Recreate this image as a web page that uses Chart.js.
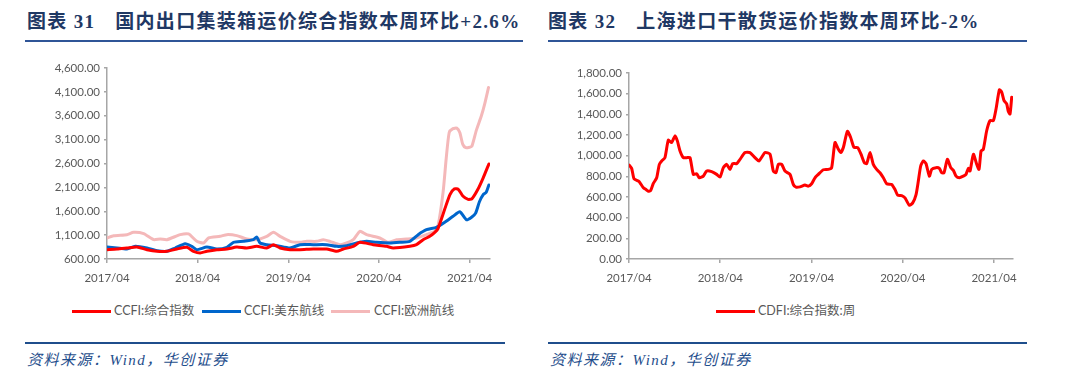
<!DOCTYPE html>
<html>
<head>
<meta charset="utf-8">
<script src="https://cdn.jsdelivr.net/npm/chart.js@4.4.0/dist/chart.umd.min.js"></script>
<style>
  body { margin: 0; width: 1080px; height: 380px; background: #fff; position: relative; overflow: hidden; }
  .title { position: absolute; top: 11px; line-height: 22px; font-family: "Liberation Serif", "Noto Sans CJK SC", serif; font-weight: bold; font-size: 19px; color: #1f3864; white-space: nowrap; letter-spacing: 1.3px; }
  .title .num { display: inline-block; margin-right: 20px; }
  .rule { position: absolute; height: 2px; background: #2f5597; }
  .legend { position: absolute; top: 302px; height: 18px; font-family: Lato, "Noto Sans CJK SC", sans-serif; font-size: 12.5px; color: #595959; white-space: nowrap; }
  .legend span.item { position: absolute; top: 0; line-height: 18px; }
  .legend i { position: absolute; top: 7.5px; height: 3px; width: 39px; }
  .source { position: absolute; top: 350px; line-height: 20px; font-family: "Liberation Serif", "Noto Sans CJK SC", serif; font-style: italic; font-size: 15px; color: #1f4e8c; white-space: nowrap; letter-spacing: 1.5px; }
  canvas { position: absolute; }
</style>
</head>
<body>
<div class="title" style="left:27px;"><span class="num">图表 31</span>国内出口集装箱运价综合指数本周环比+2.6%</div>
<div class="title" style="left:548px;"><span class="num">图表 32</span>上海进口干散货运价指数本周环比-2%</div>
<div class="rule" style="left:25px; top:40px; width:498px;"></div>
<div class="rule" style="left:548px; top:40px; width:479px;"></div>

<canvas id="chartOne" width="520" height="240" style="left:0; top:50px;"></canvas>
<canvas id="chartTwo" width="540" height="240" style="left:540px; top:50px;"></canvas>

<div class="legend" style="left:0; width:540px;">
  <i style="left:72px; background:#ff0000;"></i><span class="item" style="left:114px;">CCFI:综合指数</span>
  <i style="left:202px; background:#0066cc;"></i><span class="item" style="left:244px;">CCFI:美东航线</span>
  <i style="left:331px; background:#f4b8b9;"></i><span class="item" style="left:374px;">CCFI:欧洲航线</span>
</div>
<div class="legend" style="left:540px; width:540px;">
  <i style="left:176px; background:#ff0000;"></i><span class="item" style="left:218px;">CDFI:综合指数:周</span>
</div>

<div class="rule" style="left:25px; top:342px; width:480px; background:#1f4e8c;"></div>
<div class="rule" style="left:548px; top:342px; width:479px; background:#1f4e8c;"></div>
<div class="source" style="left:27px;">资料来源：Wind，华创证券</div>
<div class="source" style="left:550px;">资料来源：Wind，华创证券</div>

<script>
// x values are months counted from 2017/04
var yearLabels = ['2017/04', '2018/04', '2019/04', '2020/04', '2021/04'];
var yearTickMonths = [0, 12, 24, 36, 48];

var ccfiYTicks = [600, 1100, 1600, 2100, 2600, 3100, 3600, 4100, 4600];
var cdfiYTicks = [0, 200, 400, 600, 800, 1000, 1200, 1400, 1600, 1800];

// CCFI composite
var compositeMonths = [0, 1.32, 2.64, 3.96, 5.29, 6.61, 7.93, 9.25, 10.57, 11.45, 12.33, 13.22, 14.54, 15.86, 17.18, 18.5, 19.82, 21.15, 22.03, 22.91, 24.23, 25.55, 27.31, 29.07, 30.4, 31.28, 32.6, 33.48, 35.24, 37.0, 37.89, 40.09, 40.97, 41.85, 42.73, 43.39, 43.8, 44.7, 45.4, 46.0, 46.5, 47.1, 47.8, 48.3, 49.1, 49.8, 50.55];
var compositeValues = [795, 809, 830, 851, 795, 761, 761, 809, 844, 761, 726, 761, 795, 809, 851, 830, 865, 830, 900, 830, 795, 795, 809, 809, 761, 809, 865, 949, 900, 865, 830, 865, 900, 1005, 1075, 1158, 1230, 1640, 1950, 2070, 2060, 1920, 1850, 1860, 2060, 2300, 2590];

// CCFI US east coast
var usEastMonths = [0, 1.32, 2.64, 3.74, 5.29, 6.61, 7.93, 9.03, 10.35, 11.23, 11.89, 13.22, 14.54, 15.86, 16.74, 18.06, 19.38, 19.82, 20.26, 21.15, 22.47, 24.23, 25.55, 27.31, 29.07, 30.4, 31.72, 33.04, 34.36, 35.68, 37.44, 38.77, 40.09, 41.19, 42.29, 43.61, 44.71, 45.81, 46.7, 47.6, 48.3, 48.8, 49.3, 49.8, 50.2, 50.55];
var usEastValues = [851, 830, 809, 865, 830, 775, 761, 830, 921, 865, 795, 851, 809, 844, 949, 970, 1005, 1061, 935, 900, 879, 830, 900, 900, 900, 865, 879, 935, 970, 949, 935, 949, 970, 1110, 1214, 1263, 1368, 1494, 1590, 1420, 1480, 1560, 1800, 1950, 2000, 2150];

// CCFI Europe
var europeMonths = [0, 0.88, 2.64, 3.52, 4.85, 6.17, 7.05, 7.93, 9.69, 10.79, 11.89, 12.78, 13.44, 14.98, 15.86, 17.18, 18.5, 19.82, 21.15, 22.03, 22.91, 24.23, 25.55, 26.43, 27.75, 28.63, 29.52, 30.84, 31.72, 32.6, 33.48, 34.36, 36.12, 37.22, 38.33, 39.65, 40.97, 42.29, 43.39, 43.83, 44.49, 44.9, 45.3, 45.8, 46.3, 46.7, 47.1, 47.5, 48.0, 48.3, 48.9, 49.56, 50.0, 50.5];
var europeValues = [1040, 1089, 1110, 1158, 1130, 1005, 1019, 1005, 1110, 1124, 970, 935, 1040, 1075, 1110, 1089, 1019, 1005, 1075, 1158, 1075, 970, 949, 970, 970, 1005, 970, 900, 935, 1005, 1180, 1110, 1040, 949, 1005, 1019, 1040, 1110, 1180, 1300, 2000, 2700, 3250, 3330, 3340, 3250, 3000, 2930, 2940, 2960, 3300, 3600, 3850, 4190];

// CDFI composite, weekly
var cdfiMonths = [0, 0.35, 0.66, 1.23, 1.45, 1.89, 2.24, 2.54, 2.85, 3.2, 3.64, 3.99, 4.3, 4.73, 5.17, 5.61, 6.05, 6.36, 6.71, 7.15, 7.58, 8.02, 8.46, 8.9, 9.25, 9.78, 10.21, 10.87, 11.53, 11.97, 12.41, 12.85, 13.28, 13.63, 14.16, 14.6, 15.26, 15.91, 16.57, 17.1, 17.89, 18.54, 18.98, 19.33, 19.64, 20.08, 20.52, 21.17, 21.61, 21.96, 22.49, 23.15, 23.59, 24.02, 24.46, 24.9, 25.56, 26.22, 26.65, 27.09, 27.53, 27.84, 28.19, 28.72, 29.15, 29.59, 30.07, 30.51, 30.95, 31.26, 31.7, 32.13, 32.57, 33.01, 33.45, 33.89, 34.55, 34.98, 35.34, 35.86, 36.3, 36.87, 37.31, 37.75, 38.05, 38.36, 38.71, 39.06, 39.5, 39.81, 40.38, 40.82, 41.12, 41.43, 41.87, 42.31, 42.66, 43.01, 43.45, 43.97, 44.32, 44.63, 44.85, 45.29, 45.73, 46.03, 46.3, 46.6, 47.04, 47.48, 47.92, 48.27, 48.71, 49.01, 49.32, 49.67, 49.89, 50.11, 50.33];
var cdfiValues = [910, 877, 776, 754, 737, 689, 672, 656, 663, 731, 786, 916, 949, 981, 1150, 1127, 1192, 1143, 1046, 981, 981, 981, 819, 825, 786, 802, 851, 845, 819, 793, 884, 916, 867, 923, 923, 965, 1030, 1030, 981, 949, 1030, 1014, 851, 835, 916, 916, 851, 819, 721, 695, 698, 715, 705, 728, 786, 819, 864, 867, 884, 1127, 1062, 1030, 1079, 1235, 1176, 1079, 1079, 1014, 932, 923, 1030, 916, 867, 835, 786, 728, 721, 672, 617, 614, 591, 520, 543, 624, 754, 900, 949, 923, 802, 867, 884, 877, 835, 835, 965, 884, 858, 802, 786, 802, 819, 877, 851, 1014, 916, 867, 1046, 1062, 1241, 1339, 1339, 1452, 1637, 1615, 1533, 1501, 1426, 1403, 1566];

function toPoints(xs, ys) {
    return xs.map(function (x, i) { return { x: x, y: ys[i] }; });
}

function fmt(v) {
    return v.toLocaleString('en-US', { minimumFractionDigits: 2, maximumFractionDigits: 2 });
}

var axisColor = '#a6a6a6';
var tickFont = { family: 'Lato, "Noto Sans", sans-serif', size: 11.5 };

function makeChart(id, datasets, yTicks, yWidth, xMax, padding) {
    return new Chart(document.getElementById(id), {
        type: 'line',
        data: { datasets: datasets },
        options: {
            responsive: false,
            animation: false,
            layout: { padding: padding },
            plugins: { legend: { display: false }, tooltip: { enabled: false } },
            elements: { point: { radius: 0 }, line: { tension: 0.2, borderCapStyle: 'round', borderJoinStyle: 'round' } },
            scales: {
                x: {
                    type: 'linear',
                    min: 0,
                    max: xMax,
                    afterBuildTicks: function (scale) {
                        scale.ticks = yearTickMonths.map(function (v) { return { value: v }; });
                    },
                    afterFit: function (scale) { scale.height = 31; },
                    ticks: {
                        color: '#595959',
                        font: tickFont,
                        padding: 8,
                        maxRotation: 0,
                        autoSkip: false,
                        callback: function (value) { return yearLabels[yearTickMonths.indexOf(value)]; }
                    },
                    grid: { drawOnChartArea: false, color: axisColor, lineWidth: 1.5, tickLength: 4 },
                    border: { color: axisColor, width: 1.5 }
                },
                y: {
                    min: yTicks[0],
                    max: yTicks[yTicks.length - 1],
                    afterBuildTicks: function (scale) {
                        scale.ticks = yTicks.map(function (v) { return { value: v }; });
                    },
                    afterFit: function (scale) { scale.width = yWidth; },
                    ticks: {
                        color: '#595959',
                        font: tickFont,
                        padding: 4,
                        callback: function (value) { return fmt(value); }
                    },
                    grid: { drawOnChartArea: false, color: axisColor, lineWidth: 1.5, tickLength: 3 },
                    border: { color: axisColor, width: 1.5 }
                }
            }
        }
    });
}

makeChart('chartOne', [
    { label: 'CCFI:综合指数', data: toPoints(compositeMonths, compositeValues), borderColor: '#ff0000', borderWidth: 3 },
    { label: 'CCFI:美东航线', data: toPoints(usEastMonths, usEastValues), borderColor: '#0066cc', borderWidth: 3 },
    { label: 'CCFI:欧洲航线', data: toPoints(europeMonths, europeValues), borderColor: '#f4b8b9', borderWidth: 3 }
], ccfiYTicks, 107, 50.7, { top: 18, right: 30, bottom: 0, left: 0 });

makeChart('chartTwo', [
    { label: 'CDFI:综合指数:周', data: toPoints(cdfiMonths, cdfiValues), borderColor: '#ff0000', borderWidth: 3 }
], cdfiYTicks, 89, 50.5, { top: 23, right: 67, bottom: 0, left: 0 });
</script>
</body>
</html>
